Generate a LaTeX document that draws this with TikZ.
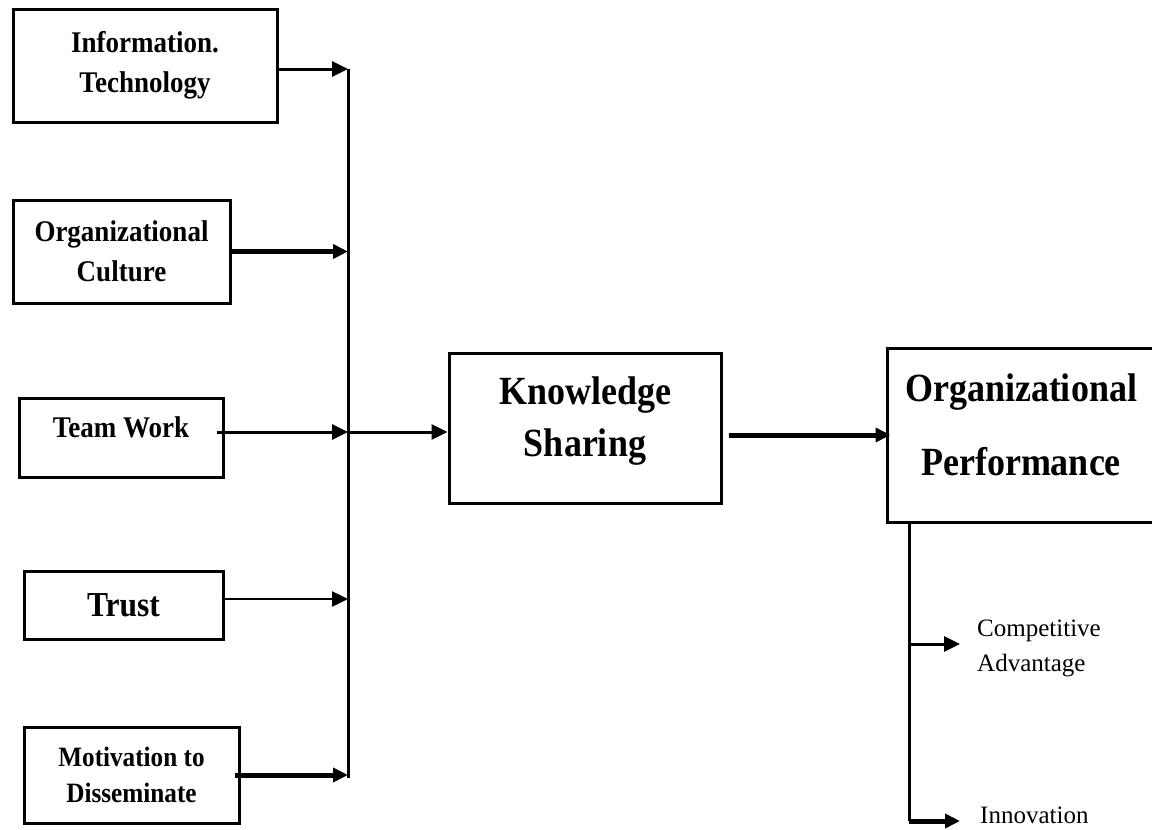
\documentclass[tikz,border=0pt]{standalone}
\usepackage{fontspec}
\setmainfont{Liberation Serif}
\newfontfamily\cond[FakeStretch=0.9]{Liberation Serif}
\usetikzlibrary{arrows.meta}
\tikzset{
  box/.style={draw, line width=3pt, inner sep=0pt, align=center, font=\cond\bfseries\fontsize{30}{40}\selectfont},
  bigbox/.style={draw, line width=3pt, inner sep=0pt},
  bigtext/.style={align=center, inner sep=0pt, font=\cond\bfseries\fontsize{40}{52}\selectfont},
  arr/.style={-{Triangle[length=16pt,width=15pt]}, line width=3pt},
  tarr/.style={-{Triangle[length=15pt,width=14pt]}, line width=5pt},
  plain/.style={inner sep=0pt, align=left, font=\fontsize{25}{35}\selectfont},
  busline/.style={line width=3pt}
}
\begin{document}
\begin{tikzpicture}[x=1pt,y=-1pt]
\useasboundingbox (0,0) rectangle (1152,830);
% left boxes
\node[box, minimum width=264pt, minimum height=113pt] (IT) at (145,65.5) {Information.\\Technology};
\node[box, minimum width=217pt, minimum height=103pt] (OC) at (121.5,251.5) {Organizational\\Culture};
\node[box, minimum width=204pt, minimum height=79pt, text height=25pt, text depth=25pt] (TW) at (121,437.5) {Team Work};
\node[box, minimum width=199pt, minimum height=68pt, font=\cond\bfseries\fontsize{35}{40}\selectfont] (TR) at (123.5,605) {Trust};
\node[box, minimum width=215pt, minimum height=96pt, font=\cond\bfseries\fontsize{28}{36}\selectfont] (MO) at (131.5,775) {Motivation to\\Disseminate};
% centre and right boxes
\node[bigbox, minimum width=272pt, minimum height=150pt,
      label={[name=KSt, bigtext, yshift=7pt]center:Knowledge\\Sharing}] (KS) at (585,428) {};
\node[bigbox, minimum width=268pt, minimum height=174pt,
      label={[name=OPt, bigtext, font=\cond\bfseries\fontsize{40}{74}\selectfont, yshift=10pt]center:Organizational\\Performance}] (OP) at (1021,435) {};
% outcome labels
\node[plain, anchor=west] (CA) at (977,648) {Competitive\\Advantage};
\node[plain, anchor=west] (IN) at (980,815) {Innovation};
% left bus
\coordinate (busT) at (348,69);
\coordinate (busB) at (348,778);
\coordinate (twj) at (348,432);
\coordinate (trj) at (348,599);
\draw[busline] (busT) -- (busB);
\draw[arr] (IT.east |- busT) -- (busT);
\draw[tarr] (OC.east) -- (OC.east -| busT);
\draw[arr] ([xshift=-8pt]TW.east |- twj) -- (twj);
\draw[arr] (twj) -- (KS.west |- twj);
\draw[arr, line width=2.5pt] ([xshift=-3pt]TR.east |- trj) -- (trj);
\draw[tarr] ([xshift=-6pt]MO.east) -- (MO.east -| busT);
% knowledge sharing to performance
\draw[tarr] ([xshift=6pt]KS.east |- OP.west) -- ([xshift=5pt]OP.west);
% right bus
\coordinate (opb) at (909,821);
\coordinate (caj) at (909,644);
\coordinate (cae) at (960,644);
\coordinate (ine) at (960,821);
\draw[busline] (OP.south -| opb) -- (opb);
\draw[arr] (caj) -- (cae);
\draw[tarr] (opb) -- (ine);
\end{tikzpicture}
\end{document}
